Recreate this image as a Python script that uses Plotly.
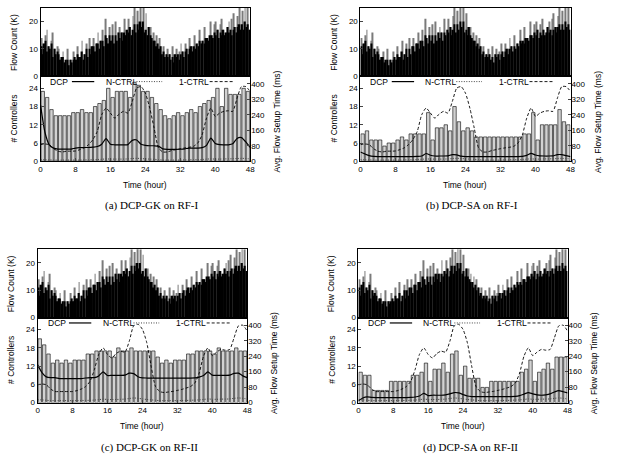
import plotly.graph_objects as go

W, H = 621, 461

# ---------------- data ----------------
flow_base = [
    11, 8, 12, 13, 9, 11, 10, 12, 7, 10, 8, 9,
    8, 6, 7, 7, 5, 6, 6, 4, 6, 5, 6, 7,
    6, 8, 7, 7, 9, 6, 8, 10, 7, 10, 8, 11,
    11, 9, 12, 12, 10, 13, 13, 11, 15, 14, 12, 15,
    13, 15, 12, 15, 13, 16, 14, 16, 13, 16, 15, 17,
    16, 18, 15, 17, 19, 16, 19, 17, 20, 18, 20, 16,
    17, 15, 18, 15, 14, 13, 13, 11, 12, 10, 11, 8,
    9, 7, 8, 7, 8, 6, 7, 5, 8, 7, 8, 6,
    8, 9, 7, 9, 10, 8, 10, 11, 9, 11, 10, 12,
    11, 13, 12, 13, 12, 14, 14, 13, 15, 15, 14, 16,
    15, 17, 14, 16, 15, 17, 15, 16, 18, 16, 17, 15,
    17, 18, 16, 18, 19, 17, 19, 17, 20, 18, 19, 17,
]
flow_peak = [
    14, 8, 12, 15, 17, 11, 10, 13, 16, 10, 8, 11,
    10, 6, 7, 9, 5, 6, 10, 4, 6, 5, 9, 7,
    6, 11, 7, 7, 13, 6, 8, 12, 7, 14, 8, 11,
    14, 9, 12, 16, 10, 13, 17, 11, 21, 14, 12, 18,
    13, 19, 12, 20, 13, 16, 18, 16, 13, 21, 15, 17,
    21, 18, 15, 22, 25, 16, 24, 17, 26, 18, 25, 16,
    23, 15, 18, 18, 14, 16, 13, 15, 12, 14, 11, 8,
    11, 7, 8, 10, 8, 6, 11, 5, 8, 10, 8, 9,
    12, 9, 7, 12, 10, 8, 14, 11, 9, 15, 10, 12,
    11, 17, 12, 13, 18, 14, 14, 13, 20, 15, 14, 19,
    20, 17, 14, 19, 21, 17, 15, 16, 18, 20, 17, 21,
    23, 18, 16, 22, 25, 17, 24, 17, 26, 18, 25, 17,
]
flow_x = [(i + 0.5) / 3 for i in range(len(flow_base))]

bar_hours = [i + 0.5 for i in range(48)]
line_hours = list(range(49))

ctrl_a = [23, 21, 17, 15, 15, 15, 15, 16, 16, 17, 16, 16, 18, 19, 20, 24, 21, 23, 23, 23,
          21, 26, 25, 23, 23, 21, 19, 17, 15, 14, 15, 16, 15, 16, 17, 16, 18, 19, 20, 21,
          24, 18, 24, 22, 22, 22, 24, 23]
ctrl_b = [9, 10, 7, 7, 7, 5, 6, 6, 7, 8, 7, 9, 9, 9, 9, 16, 7, 11, 11, 12,
          10, 18, 13, 10, 11, 10, 8, 8, 8, 8, 8, 8, 8, 8, 8, 8, 8, 9, 9, 16,
          7, 12, 12, 12, 12, 17, 13, 12]
ctrl_c = [21, 19, 16, 13, 14, 13, 14, 13, 14, 14, 14, 16, 16, 17, 17, 17, 17, 15, 18, 17,
          17, 18, 17, 17, 17, 17, 17, 15, 13, 14, 13, 14, 14, 14, 16, 16, 17, 17, 17, 17,
          16, 18, 17, 17, 17, 18, 17, 17]
ctrl_d = [10, 9, 9, 4, 4, 4, 4, 7, 7, 7, 7, 7, 9, 9, 10, 13, 7, 11, 11, 13,
          10, 16, 17, 9, 12, 8, 8, 8, 5, 5, 7, 7, 7, 7, 7, 7, 7, 10, 11, 14,
          7, 10, 11, 13, 11, 15, 15, 15]

dcp_a = [290, 150, 85, 68, 63, 63, 63, 63, 68, 70, 71, 71, 73, 76, 88, 117, 88, 85, 85, 85,
         86, 108, 110, 88, 82, 80, 80, 78, 64, 61, 61, 61, 62, 64, 68, 68, 68, 70, 82, 120,
         92, 86, 85, 85, 90, 118, 122, 100, 71]
dcp_b = [48, 38, 29, 25, 24, 24, 24, 24, 24, 24, 24, 24, 24, 25, 27, 40, 31, 27, 27, 27,
         28, 34, 33, 26, 24, 24, 24, 24, 24, 24, 24, 24, 24, 24, 24, 24, 24, 25, 30, 41,
         32, 28, 27, 27, 28, 34, 34, 29, 24]
dcp_c = [195, 155, 133, 129, 129, 124, 124, 124, 124, 124, 124, 127, 129, 129, 138, 159, 140, 141, 141, 141,
         142, 152, 150, 134, 128, 127, 127, 127, 127, 127, 127, 127, 127, 127, 127, 127, 128, 132, 140, 159,
         142, 141, 141, 141, 142, 151, 152, 138, 129]
dcp_d = [10, 24, 30, 27, 26, 26, 26, 26, 26, 26, 26, 26, 27, 29, 34, 48, 36, 38, 38, 38,
         40, 45, 52, 50, 42, 34, 31, 31, 31, 31, 31, 31, 31, 31, 31, 31, 32, 36, 44, 52,
         45, 40, 38, 40, 45, 55, 62, 56, 50]

nctrl_rf1 = [8, 8, 7, 6, 6, 6, 6, 6, 6, 6, 7, 7, 8, 9, 10, 12, 11, 11, 11, 11,
             12, 14, 15, 14, 12, 11, 10, 8, 6, 6, 6, 6, 6, 7, 7, 8, 8, 9, 11, 12,
             11, 11, 12, 12, 13, 14, 15, 14, 12]
nctrl_rf2 = [14, 14, 12, 10, 10, 10, 10, 10, 10, 10, 11, 11, 12, 13, 15, 18, 16, 16, 16, 17,
             18, 21, 24, 22, 19, 16, 14, 12, 10, 10, 10, 10, 10, 11, 11, 12, 13, 14, 16, 19,
             17, 17, 18, 18, 19, 22, 24, 22, 19]

onectrl_rf1 = [86, 89, 86, 65, 52, 48, 52, 52, 53, 60, 69, 86, 112, 155, 240, 275, 249, 223, 244, 258,
               249, 309, 378, 386, 352, 275, 172, 69, 48, 48, 55, 60, 65, 69, 72, 77, 94, 137, 223, 275,
               232, 249, 258, 261, 258, 326, 386, 386, 361]
onectrl_rf2 = [92, 96, 92, 70, 57, 57, 57, 57, 57, 62, 70, 83, 110, 170, 249, 283, 249, 231, 254, 266,
               261, 318, 397, 405, 379, 310, 188, 83, 57, 52, 55, 58, 63, 68, 75, 83, 101, 153, 240, 283,
               243, 261, 275, 271, 275, 336, 397, 400, 370]

captions = ["(a) DCP-GK on RF-I", "(b) DCP-SA on RF-I", "(c) DCP-GK on RF-II", "(d) DCP-SA on RF-II"]
legend_names = ["DCP", "N-CTRL", "1-CTRL"]
x_ticks = [0, 8, 16, 24, 32, 40, 48]
flow_ticks = [0, 10, 20]
ctrl_ticks = [0, 6, 12, 18, 24]
time_ticks = [0, 80, 160, 240, 320, 400]

series = [
    (ctrl_a, dcp_a, nctrl_rf1, onectrl_rf1),
    (ctrl_b, dcp_b, nctrl_rf1, onectrl_rf1),
    (ctrl_c, dcp_c, nctrl_rf2, onectrl_rf2),
    (ctrl_d, dcp_d, nctrl_rf2, onectrl_rf2),
]

# ---------------- layout geometry (pixels) ----------------
boxes = [  # left, right, top, mid, bottom
    (39, 251, 8, 77, 163),
    (362.5, 575, 8, 77, 163),
    (36, 248, 252, 321, 407),
    (360.5, 572, 252, 321, 407),
]

FONT = "Liberation Sans, Arial, sans-serif"
TICKFONT = dict(family=FONT, size=8, color="black")
LABELFONT = dict(family=FONT, size=8.5, color="black")

def px(x):
    return x / W

def py(y):
    return 1 - y / H

def axname(kind, n):
    return f"{kind}axis" if n == 1 else f"{kind}axis{n}"

def ref(kind, n):
    return kind if n == 1 else f"{kind}{n}"

fig = go.Figure()
layout = {}
annotations = []
shapes = []

def label(text, x, y, angle=0, xanchor="center", font=LABELFONT):
    annotations.append(dict(text=text, x=px(x), y=py(y), xref="paper", yref="paper",
                            xanchor=xanchor, yanchor="middle", textangle=angle,
                            showarrow=False, font=font))

for p, (l, r, t, m, b) in enumerate(boxes):
    ctrl, dcp, nctrl, one = series[p]
    xt, xb = 2 * p + 1, 2 * p + 2
    yt, yl, yr = 3 * p + 1, 3 * p + 2, 3 * p + 3

    common_line = dict(showline=True, linecolor="black", linewidth=1, mirror=True,
                       showgrid=False, zeroline=False)

    layout[axname("x", xt)] = dict(domain=[px(l), px(r)], anchor=ref("y", yt), range=[0, 48],
                                   showticklabels=False, ticks="", **common_line)
    layout[axname("y", yt)] = dict(domain=[py(m), py(t)], anchor=ref("x", xt), range=[0, 25],
                                   tickvals=flow_ticks, ticks="inside", ticklen=3,
                                   tickfont=TICKFONT, **common_line)
    layout[axname("x", xb)] = dict(domain=[px(l), px(r)], anchor=ref("y", yl), range=[0, 48],
                                   tickvals=x_ticks, ticks="inside", ticklen=3,
                                   tickfont=TICKFONT, **common_line)
    layout[axname("y", yl)] = dict(domain=[py(b), py(m)], anchor=ref("x", xb), range=[0, 28],
                                   tickvals=ctrl_ticks, ticks="inside", ticklen=3,
                                   tickfont=TICKFONT, **common_line)
    layout[axname("y", yr)] = dict(overlaying=ref("y", yl), side="right", anchor=ref("x", xb),
                                   range=[0, 440], tickvals=time_ticks, ticks="inside", ticklen=3,
                                   tickfont=TICKFONT, showline=False, showgrid=False, zeroline=False)

    # flow count
    fig.add_trace(go.Bar(x=flow_x, y=flow_peak, width=0.2, marker=dict(color="#7a7a7a", line=dict(width=0)),
                         xaxis=ref("x", xt), yaxis=ref("y", yt), showlegend=False))
    fig.add_trace(go.Bar(x=flow_x, y=flow_base, width=1 / 3, marker=dict(color="black", line=dict(width=0)),
                         xaxis=ref("x", xt), yaxis=ref("y", yt), showlegend=False))
    # controllers
    fig.add_trace(go.Bar(x=bar_hours, y=ctrl, width=0.78,
                         marker=dict(color="#d2d2d2", line=dict(color="black", width=0.6)),
                         xaxis=ref("x", xb), yaxis=ref("y", yl), showlegend=False))
    # setup times
    fig.add_trace(go.Scatter(x=line_hours, y=nctrl, mode="lines", name=legend_names[1],
                             line=dict(color="#444444", width=1, dash="1px,1.5px", shape="spline", smoothing=0.6),
                             xaxis=ref("x", xb), yaxis=ref("y", yr), showlegend=False))
    fig.add_trace(go.Scatter(x=line_hours, y=one, mode="lines", name=legend_names[2],
                             line=dict(color="black", width=0.9, dash="3px,2px", shape="spline", smoothing=0.6),
                             xaxis=ref("x", xb), yaxis=ref("y", yr), showlegend=False))
    fig.add_trace(go.Scatter(x=line_hours, y=dcp, mode="lines", name=legend_names[0],
                             line=dict(color="black", width=1.2, shape="spline", smoothing=0.6),
                             xaxis=ref("x", xb), yaxis=ref("y", yr), showlegend=False))

    # axis titles and caption
    label("Flow Count (K)", l - 27, (t + m) / 2, angle=-90)
    label("# Controllers", l - 27, (m + b) / 2, angle=-90)
    label("Avg. Flow Setup Time (ms)", r + 27, (m + b) / 2 + 3, angle=-90)
    label("Time (hour)", (l + r) / 2, b + 24)
    label(captions[p], l + 113, b + 45,
          font=dict(family="Liberation Serif, Times New Roman, serif", size=11, color="black"))

    # in-plot key
    ly = m + 5.5
    key = [(legend_names[0], 8, 31.7, 54.3, "solid", "black", 1.2),
           (legend_names[1], 63.7, 97, 123, "1px,1.5px", "#444444", 1),
           (legend_names[2], 137.7, 171, 196, "3px,2px", "black", 0.9)]
    for name, tx, x0, x1, dash, col, wd in key:
        label(name, l + tx, ly, xanchor="left")
        shapes.append(dict(type="line", xref="paper", yref="paper", x0=px(l + x0), x1=px(l + x1),
                           y0=py(ly), y1=py(ly), line=dict(color=col, width=wd, dash=dash)))

fig.update_layout(
    width=W, height=H, margin=dict(l=0, r=0, t=0, b=0),
    paper_bgcolor="white", plot_bgcolor="white",
    barmode="overlay", showlegend=False,
    annotations=annotations, shapes=shapes,
    **layout,
)

fig.write_html("out.html")
